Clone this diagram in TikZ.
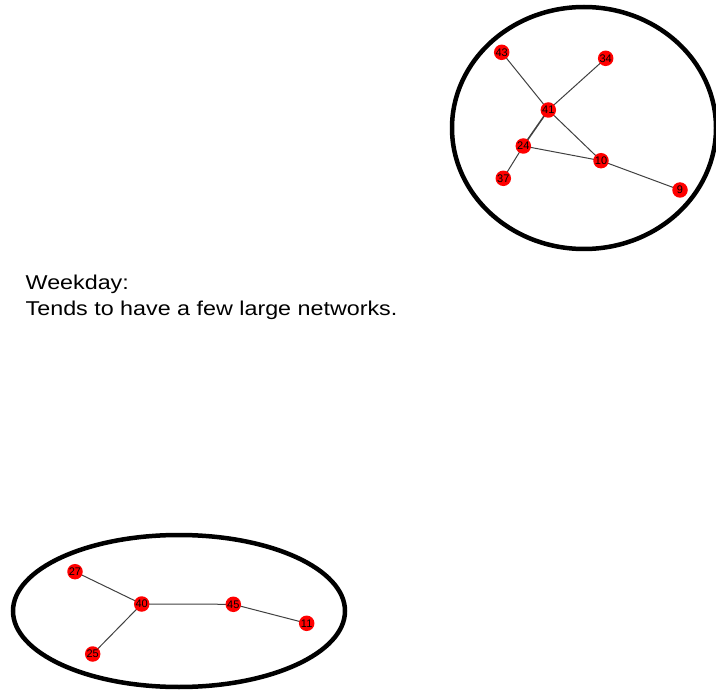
\documentclass[tikz,border=0pt]{standalone}
\usepackage{graphicx}
\usepackage{fontspec}
\setmainfont{Liberation Sans}
\begin{document}
\begin{tikzpicture}[x=1pt,y=-1pt,
  vertex/.style={circle,fill=red,inner sep=0pt,minimum size=15.5pt,font=\fontsize{11}{12}\selectfont},
  edge/.style={draw=black!75,line width=1pt},
  group/.style={draw=black,line width=4.5pt},
  caption/.style={anchor=base west,inner sep=0pt}]
\useasboundingbox (0,0) rectangle (716,690);
% top group
\draw[group] (584,128) ellipse [x radius=132, y radius=121];
\coordinate (c43) at (501.7,52.3);
\coordinate (c34) at (605.7,58.3);
\coordinate (c41) at (548.3,110);
\coordinate (c24) at (523.3,146);
\coordinate (c10) at (601,160.7);
\coordinate (c37) at (503.3,178.3);
\coordinate (c9) at (680,190);
\draw[edge] (c43) -- (c41);
\draw[edge] (c34) -- (c41);
\draw[edge,line width=1.6pt] (c41) -- (c24);
\draw[edge] (c41) -- (c10);
\draw[edge] (c24) -- (c10);
\draw[edge] (c24) -- (c37);
\draw[edge] (c10) -- (c9);
\node[vertex] (n43) at (c43) {43};
\node[vertex] (n34) at (c34) {34};
\node[vertex] (n41) at (c41) {41};
\node[vertex] (n24) at (c24) {24};
\node[vertex] (n10) at (c10) {10};
\node[vertex] (n37) at (c37) {37};
\node[vertex] (n9) at (c9) {9};
% bottom group
\draw[group] (179,611) ellipse [x radius=166, y radius=76];
\coordinate (c27) at (75,571.7);
\coordinate (c40) at (141.7,604);
\coordinate (c45) at (233.3,604.3);
\coordinate (c11) at (306.7,623.3);
\coordinate (c25) at (92.7,654);
\draw[edge] (c27) -- (c40);
\draw[edge] (c40) -- (c45);
\draw[edge] (c45) -- (c11);
\draw[edge] (c40) -- (c25);
\node[vertex] (n27) at (c27) {27};
\node[vertex] (n40) at (c40) {40};
\node[vertex] (n45) at (c45) {45};
\node[vertex] (n11) at (c11) {11};
\node[vertex] (n25) at (c25) {25};
% text
\node[caption] (t1) at (25.5,289.3) {\scalebox{1.165}[1]{\fontsize{20}{22}\selectfont Weekday:}};
\node[caption] (t2) at (25.5,316) {\scalebox{1.165}[1]{\fontsize{20}{22}\selectfont Tends to have a few large networks.}};
\end{tikzpicture}
\end{document}
